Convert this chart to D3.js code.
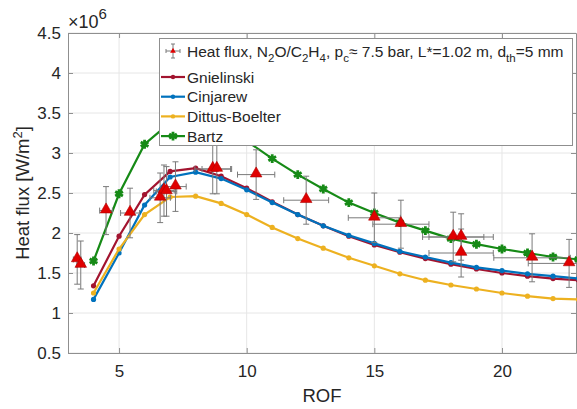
<!DOCTYPE html>
<html>
<head>
<meta charset="utf-8">
<script src="https://cdn.jsdelivr.net/npm/d3@7"></script>
<style>
  body { margin: 0; background: #fff; }
  svg { display: block; font-family: "Liberation Sans", Arial, sans-serif; }
</style>
</head>
<body>
<div id="chart"></div>
<script>
// model curves, one value per integer ROF (x10^6 W/m^2)
var rof = [4, 5, 6, 7, 8, 9, 10, 11, 12, 13, 14, 15, 16, 17, 18, 19, 20, 21, 22, 23];
var gnielinski = [1.34, 1.96, 2.48, 2.77, 2.81, 2.71, 2.56, 2.39, 2.23, 2.09, 1.96, 1.85, 1.76, 1.68, 1.61, 1.55, 1.50, 1.46, 1.43, 1.41];
var cinjarew = [1.17, 1.75, 2.35, 2.70, 2.76, 2.68, 2.54, 2.38, 2.23, 2.09, 1.97, 1.87, 1.77, 1.70, 1.63, 1.57, 1.53, 1.49, 1.46, 1.43];
var dittus = [1.25, 1.80, 2.23, 2.45, 2.46, 2.37, 2.23, 2.07, 1.93, 1.81, 1.69, 1.59, 1.49, 1.41, 1.35, 1.30, 1.25, 1.21, 1.18, 1.17];
var bartz = [1.65, 2.49, 3.11, 3.38, 3.45, 3.35, 3.15, 2.93, 2.73, 2.55, 2.38, 2.25, 2.13, 2.03, 1.93, 1.86, 1.80, 1.75, 1.70, 1.67];

// measured heat flux with error bars
var expRof = [3.36, 3.50, 4.49, 5.43, 6.61, 6.76, 6.86, 7.21, 8.67, 8.83, 10.37, 12.33, 15.0, 16.04, 18.09, 18.4, 18.4, 21.18, 22.63];
var expFlux = [1.67, 1.60, 2.28, 2.25, 2.44, 2.53, 2.52, 2.58, 2.80, 2.80, 2.73, 2.41, 2.19, 2.11, 1.95, 1.95, 1.75, 1.69, 1.62];
var expRofErr = [0.15, 0.15, 0.25, 0.37, 0.4, 0.4, 0.4, 0.42, 0.7, 0.58, 0.73, 0.88, 1.02, 1.1, 1.2, 1.26, 1.26, 1.5, 1.6];
var expFluxErr = [0.31, 0.30, 0.30, 0.31, 0.31, 0.32, 0.31, 0.31, 0.31, 0.31, 0.31, 0.30, 0.31, 0.30, 0.31, 0.29, 0.30, 0.30, 0.30];

var xTicks = [5, 10, 15, 20];
var yTicks = [0.5, 1, 1.5, 2, 2.5, 3, 3.5, 4, 4.5];

var models = [
    {name: "Gnielinski", values: gnielinski, color: "#A2142F", marker: "dot"},
    {name: "Cinjarew", values: cinjarew, color: "#0072BD", marker: "dot"},
    {name: "Dittus-Boelter", values: dittus, color: "#EDB120", marker: "dot"},
    {name: "Bartz", values: bartz, color: "#168A16", marker: "star"}
];

var width = 577, height = 409;
var margin = {top: 33, right: 1, bottom: 56, left: 68};
var axisColor = "#8f8f8f", textColor = "#262626";

var svg = d3.select("#chart").append("svg")
    .attr("width", width)
    .attr("height", height);

var x = d3.scaleLinear().domain([3, 22.9]).range([margin.left, width - margin.right]);
var y = d3.scaleLinear().domain([0.5, 4.5]).range([height - margin.bottom, margin.top]);

svg.append("clipPath").attr("id", "plotclip")
    .append("rect")
    .attr("x", margin.left).attr("y", margin.top)
    .attr("width", width - margin.right - margin.left + 4)
    .attr("height", height - margin.bottom - margin.top);

// grid
var grid = svg.append("g").attr("stroke", "#e6e6e6").attr("stroke-width", 1);
grid.selectAll("line.gx")
    .data(xTicks)
    .enter()
    .append("line")
    .attr("x1", function (d) { return x(d); })
    .attr("x2", function (d) { return x(d); })
    .attr("y1", y(0.5)).attr("y2", y(4.5));
grid.selectAll("line.gy")
    .data(yTicks)
    .enter()
    .append("line")
    .attr("x1", x.range()[0]).attr("x2", x.range()[1])
    .attr("y1", function (d) { return y(d); })
    .attr("y2", function (d) { return y(d); });

// axes, matlab style: ticks inside, box on
var fmt = function (d) { return String(d); };
var xAxis = svg.append("g")
    .attr("transform", "translate(0," + y(0.5) + ")")
    .call(d3.axisBottom(x).tickValues(xTicks).tickFormat(fmt).tickSizeInner(-5).tickSizeOuter(0).tickPadding(12));
var yAxis = svg.append("g")
    .attr("transform", "translate(" + x(3) + ",0)")
    .call(d3.axisLeft(y).tickValues(yTicks).tickFormat(fmt).tickSizeInner(-5).tickSizeOuter(0).tickPadding(7));
var xTop = svg.append("g")
    .attr("transform", "translate(0," + y(4.5) + ")")
    .call(d3.axisTop(x).tickValues(xTicks).tickFormat("").tickSizeInner(-5).tickSizeOuter(0));
var yRight = svg.append("g")
    .attr("transform", "translate(" + (width - margin.right) + ",0)")
    .call(d3.axisRight(y).tickValues(yTicks).tickFormat("").tickSizeInner(-5).tickSizeOuter(0));

[xAxis, yAxis, xTop, yRight].forEach(function (g) {
    g.selectAll("path, line").attr("stroke", axisColor);
    g.selectAll("text")
        .attr("fill", textColor)
        .style("font-size", "17px")
        .style("font-family", "'Liberation Sans', Arial, sans-serif");
});

// axis labels
svg.append("text")
    .attr("x", (x.range()[0] + x.range()[1]) / 2)
    .attr("y", 402)
    .attr("text-anchor", "middle")
    .attr("fill", textColor)
    .style("font-size", "18.5px")
    .text("ROF");

var yl = svg.append("text")
    .attr("transform", "translate(29," + ((y(0.5) + y(4.5)) / 2) + ") rotate(-90)")
    .attr("text-anchor", "middle")
    .attr("fill", textColor)
    .style("font-size", "18.5px");
yl.append("tspan").text("Heat flux [W/m");
yl.append("tspan").attr("dy", -7).style("font-size", "13px").text("2");
yl.append("tspan").attr("dy", 7).text("]");

var ex = svg.append("text")
    .attr("x", 68).attr("y", 28)
    .attr("fill", textColor)
    .style("font-size", "18px");
ex.append("tspan").text("\u00d710");
ex.append("tspan").attr("dy", -9).style("font-size", "15px").text("6");

// model lines
var plot = svg.append("g").attr("clip-path", "url(#plotclip)");

var line = d3.line()
    .x(function (d) { return x(d[0]); })
    .y(function (d) { return y(d[1]); });

var star = d3.symbol().type(d3.symbolAsterisk).size(55);

models.forEach(function (m) {
    var pts = rof.map(function (r, i) { return [r, m.values[i]]; });
    plot.append("path")
        .datum(pts)
        .attr("d", line)
        .attr("fill", "none")
        .attr("stroke", m.color)
        .attr("stroke-width", 2.2);
    if (m.marker === "dot") {
        plot.selectAll(null)
            .data(pts)
            .enter()
            .append("circle")
            .attr("cx", function (d) { return x(d[0]); })
            .attr("cy", function (d) { return y(d[1]); })
            .attr("r", 2.6)
            .attr("fill", m.color);
    } else {
        plot.selectAll(null)
            .data(pts)
            .enter()
            .append("path")
            .attr("transform", function (d) { return "translate(" + x(d[0]) + "," + y(d[1]) + ")"; })
            .attr("d", star)
            .attr("fill", "none")
            .attr("stroke", m.color)
            .attr("stroke-width", 2.8);
    }
});

// experimental points with error bars
var expData = expRof.map(function (r, i) {
    return {x: r, y: expFlux[i], xe: expRofErr[i], ye: expFluxErr[i]};
});
var cap = 3;
var eb = plot.append("g").attr("stroke", "#7a7a7a").attr("stroke-width", 1).attr("fill", "none");
expData.forEach(function (d) {
    var cx = x(d.x), cy = y(d.y);
    var y0 = y(d.y - d.ye), y1 = y(d.y + d.ye);
    var x0 = x(d.x - d.xe), x1 = x(d.x + d.xe);
    eb.append("path").attr("d",
        "M" + cx + "," + y0 + "V" + y1 +
        "M" + (cx - cap) + "," + y0 + "H" + (cx + cap) +
        "M" + (cx - cap) + "," + y1 + "H" + (cx + cap) +
        "M" + x0 + "," + cy + "H" + x1 +
        "M" + x0 + "," + (cy - cap) + "V" + (cy + cap) +
        "M" + x1 + "," + (cy - cap) + "V" + (cy + cap));
});

var tri = d3.symbol().type(d3.symbolTriangle).size(58);
plot.selectAll("path.tri")
    .data(expData)
    .enter()
    .append("path")
    .attr("class", "tri")
    .attr("transform", function (d) { return "translate(" + x(d.x) + "," + (y(d.y) - 1) + ")"; })
    .attr("d", tri)
    .attr("fill", "#e00000")
    .attr("stroke", "#b00000")
    .attr("stroke-width", 0.6);

// legend
var lg = svg.append("g");
lg.append("rect")
    .attr("x", 159.5).attr("y", 38.5)
    .attr("width", 413).attr("height", 107)
    .attr("fill", "#fff")
    .attr("stroke", "#8f8f8f")
    .attr("stroke-width", 1);

// errorbar entry
var lx = 173, ly = 51;
lg.append("path")
    .attr("d", "M" + lx + "," + (ly - 7) + "V" + (ly + 7) + "M" + (lx - 2) + "," + (ly - 7) + "H" + (lx + 2) +
        "M" + (lx - 2) + "," + (ly + 7) + "H" + (lx + 2) +
        "M" + (lx - 7) + "," + ly + "H" + (lx + 7) + "M" + (lx - 7) + "," + (ly - 2) + "V" + (ly + 2) +
        "M" + (lx + 7) + "," + (ly - 2) + "V" + (ly + 2))
    .attr("stroke", "#7a7a7a").attr("stroke-width", 1).attr("fill", "none");
lg.append("path")
    .attr("transform", "translate(" + lx + "," + ly + ")")
    .attr("d", d3.symbol().type(d3.symbolTriangle).size(14))
    .attr("fill", "#e00000");

var t0 = lg.append("text")
    .attr("x", 187).attr("y", 57)
    .attr("fill", textColor)
    .style("font-size", "15.5px");
var parts = [["Heat flux, N"], ["2", 1], ["O/C"], ["2", 1], ["H"], ["4", 1], [", p"], ["c", 1],
    ["\u2248 7.5 bar, L*=1.02 m, d"], ["th", 1], ["=5 mm"]];
var shifted = false;
parts.forEach(function (p) {
    var ts = t0.append("tspan").text(p[0]);
    if (p[1] && !shifted) {
        ts.attr("dy", 5).style("font-size", "11.5px");
        shifted = true;
    } else if (!p[1] && shifted) {
        ts.attr("dy", -5);
        shifted = false;
    }
});

models.forEach(function (m, i) {
    var yy = 77 + i * 19.7;
    lg.append("line")
        .attr("x1", 161).attr("x2", 185)
        .attr("y1", yy).attr("y2", yy)
        .attr("stroke", m.color).attr("stroke-width", 2.2);
    if (m.marker === "dot") {
        lg.append("circle").attr("cx", 173).attr("cy", yy).attr("r", 2.2).attr("fill", m.color);
    } else {
        lg.append("path")
            .attr("transform", "translate(173," + yy + ")")
            .attr("d", star)
            .attr("fill", "none")
            .attr("stroke", m.color)
            .attr("stroke-width", 2.8);
    }
    lg.append("text")
        .attr("x", 187).attr("y", yy + 5.5)
        .attr("fill", textColor)
        .style("font-size", "15.5px")
        .text(m.name);
});
</script>
</body>
</html>
